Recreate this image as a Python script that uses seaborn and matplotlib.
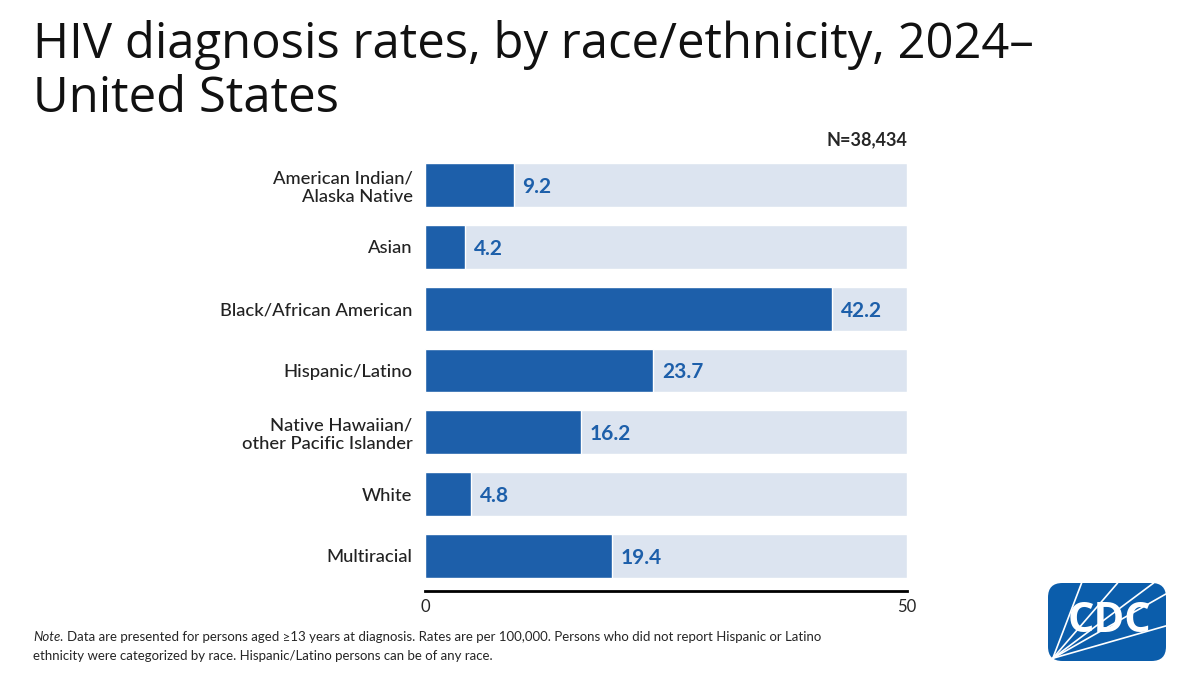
#!/usr/bin/env python3
"""
HIV diagnosis rates by race/ethnicity, 2024 - United States (CDC style bar chart).
"""

import numpy as np
import pandas as pd
import matplotlib.pyplot as plt
import seaborn as sns
from matplotlib.patches import FancyBboxPatch
from matplotlib.lines import Line2D

# Data
GROUPS = [
    "American Indian/\nAlaska Native",
    "Asian",
    "Black/African American",
    "Hispanic/Latino",
    "Native Hawaiian/\nother Pacific Islander",
    "White",
    "Multiracial",
]
RATES = [9.2, 4.2, 42.2, 23.7, 16.2, 4.8, 19.4]
AXIS_MAX = 50
TOTAL_N = "N=38,434"
TITLE_LINES = ["HIV diagnosis rates, by race/ethnicity, 2024\u2013", "United States"]

DARK_BLUE = "#1D5FAA"
LIGHT_BLUE = "#DCE4F0"

sns.set_theme(style="white")
plt.rcParams["font.family"] = ["Lato", "DejaVu Sans"]


def draw_logo(fig):
    # simple CDC mark in the lower right corner
    x0, y0, w, h = 1048 / 1200, 1 - 661 / 675, 118 / 1200, 78 / 675
    box = FancyBboxPatch((x0, y0), w, h, boxstyle="round,pad=0,rounding_size=0.012",
                         transform=fig.transFigure, facecolor="#0B5DAB",
                         edgecolor="none", mutation_aspect=1200 / 675)
    fig.patches.append(box)
    ox, oy = x0 + 0.004, y0 + 0.004
    for ex, ey in [(x0 + 0.028, y0 + h), (x0 + 0.058, y0 + h), (x0 + 0.088, y0 + h),
                   (x0 + w, y0 + h * 0.86), (x0 + w, y0 + h * 0.45)]:
        fig.lines.append(Line2D([ox, ex], [oy, ey], transform=fig.transFigure,
                                color="white", lw=1.2))
    fig.text(x0 + w * 0.52, y0 + h * 0.5, "CDC", transform=fig.transFigure,
             ha="center", va="center", color="white", fontsize=30,
             fontweight="bold", family=["Open Sans", "DejaVu Sans"])


def main():
    df = pd.DataFrame({"group": GROUPS, "rate": RATES})
    df["full"] = AXIS_MAX

    fig = plt.figure(figsize=(12, 6.75), dpi=100)
    ax = fig.add_axes([425 / 1200, 1 - 591 / 675, 482 / 1200, 441 / 675])

    sns.barplot(data=df, x="full", y="group", color=LIGHT_BLUE, saturation=1,
                width=0.71, ax=ax)
    sns.barplot(data=df, x="rate", y="group", color=DARK_BLUE, saturation=1,
                width=0.71, ax=ax)

    for i, v in enumerate(RATES):
        ax.text(v + 0.9, i + 0.03, f"{v:.1f}", va="center", ha="left",
                color=DARK_BLUE, fontsize=15, fontweight="bold")

    ax.set_xlim(0, AXIS_MAX)
    ax.set_ylim(len(GROUPS) - 0.43, -0.57)
    ax.set_xticks([0, AXIS_MAX])
    ax.set_xticklabels(["0", "50"], fontsize=12)
    ax.set_xlabel("")
    ax.set_ylabel("")
    ax.tick_params(axis="both", length=0, pad=6)
    ax.tick_params(axis="y", labelsize=13.2, pad=9)
    for lab in ax.get_yticklabels():
        lab.set_fontweight("medium")
        lab.set_color("#222222")
    sns.despine(ax=ax, left=True, top=True, right=True)
    ax.spines["bottom"].set_linewidth(2)
    ax.spines["bottom"].set_color("black")

    ax.text(1.0, 1.005, TOTAL_N, transform=ax.transAxes, ha="right", va="bottom",
            fontsize=13, fontweight="bold")

    for k, line in enumerate(TITLE_LINES):
        fig.text(33 / 1200, 1 - (58 + 54 * k) / 675, line,
                 ha="left", va="baseline", fontsize=35.3, color="#111111",
                 family=["Open Sans", "DejaVu Sans"])

    fig.text(33 / 1200, 1 - 641 / 675, "Note.", ha="left", va="baseline",
             fontsize=9.5, style="italic")
    fig.text(67 / 1200, 1 - 641 / 675,
             "Data are presented for persons aged \u226513 years at diagnosis. Rates are per "
             "100,000. Persons who did not report Hispanic or Latino",
             ha="left", va="baseline", fontsize=9.5)
    fig.text(33 / 1200, 1 - 660 / 675,
             "ethnicity were categorized by race. Hispanic/Latino persons can be of any race.",
             ha="left", va="baseline", fontsize=9.5)

    draw_logo(fig)

    fig.savefig("out.png", dpi=100, facecolor="white")


if __name__ == "__main__":
    main()
